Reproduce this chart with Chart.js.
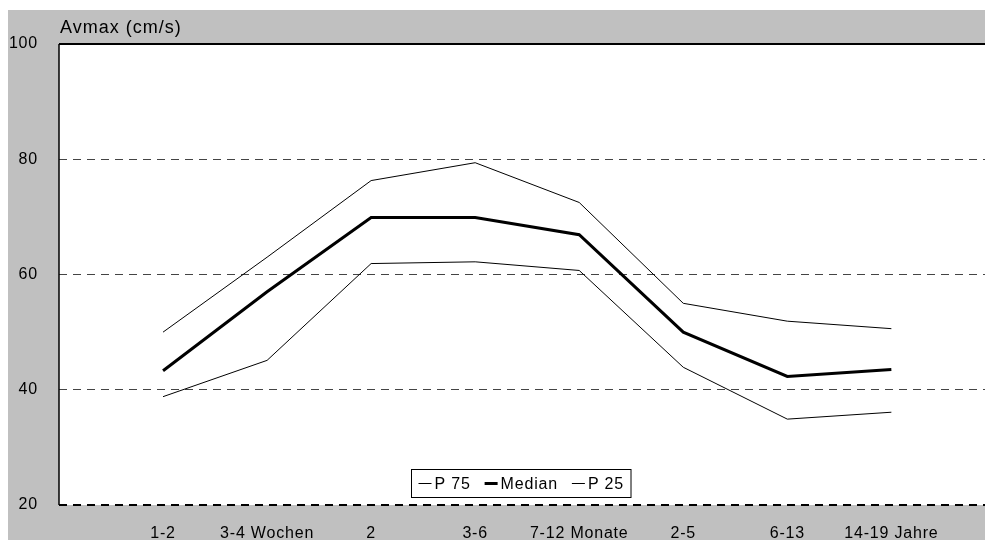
<!DOCTYPE html>
<html>
<head>
<meta charset="utf-8">
<script src="https://cdn.jsdelivr.net/npm/chart.js@4.4.1/dist/chart.umd.min.js"></script>
<style>
  html, body { margin: 0; padding: 0; background: #fff; }
  #c { display: block; }
</style>
</head>
<body>
<canvas id="c" width="985" height="540"></canvas>
<script>
// age groups along the x axis
const categories = ['1-2', '3-4 Wochen', '2', '3-6', '7-12 Monate', '2-5', '6-13', '14-19 Jahre'];
const yTicks = [20, 40, 60, 80, 100];

// Avmax in cm/s
const p75 = [50, 63, 76.3, 79.4, 72.5, 55.0, 51.9, 50.6];
const median = [43.3, 57.0, 69.9, 69.9, 66.9, 50.0, 42.3, 43.5];
const p25 = [38.8, 45.1, 61.9, 62.2, 60.7, 43.9, 34.9, 36.1];

const FONT = '"Liberation Sans", Arial, Helvetica, sans-serif';

function toPoints(arr) {
  return arr.map((v, i) => ({ x: i + 1, y: v }));
}

// gray frame, white plot area, borders, title and boxed legend
const frame = {
  id: 'frame',
  beforeLayout(chart) { chart.ctx.letterSpacing = '0.8px'; },
  beforeDraw(chart) {
    const { ctx, chartArea: a } = chart;
    ctx.letterSpacing = '0.8px';
    ctx.save();
    ctx.fillStyle = '#c0c0c0';
    ctx.fillRect(8, 10, chart.width - 8, chart.height - 10);
    ctx.fillStyle = '#fff';
    ctx.fillRect(a.left, a.top, a.right - a.left, a.bottom - a.top);
    ctx.restore();
  },
  afterDraw(chart) {
    const { ctx, chartArea: a } = chart;
    ctx.save();
    // top and left border
    ctx.strokeStyle = '#000';
    ctx.lineWidth = 2;
    ctx.beginPath();
    ctx.moveTo(a.left, a.top);
    ctx.lineTo(a.right, a.top);
    ctx.stroke();
    ctx.lineWidth = 1.5;
    ctx.beginPath();
    ctx.moveTo(a.left, a.top);
    ctx.lineTo(a.left, a.bottom);
    ctx.stroke();

    // title
    ctx.letterSpacing = '1px';
    ctx.fillStyle = '#000';
    ctx.font = '18px ' + FONT;
    ctx.textBaseline = 'alphabetic';
    ctx.fillText('Avmax (cm/s)', 60, 33);

    // legend
    ctx.letterSpacing = '0.8px';
    ctx.font = '16px ' + FONT;
    const ds = chart.data.datasets;
    const sample = 13, gapAfterLine = 3, gapItem = 14, padX = 7;
    let w = padX * 2;
    const widths = ds.map(d => ctx.measureText(d.label).width);
    widths.forEach((tw, i) => { w += sample + gapAfterLine + tw + (i < ds.length - 1 ? gapItem : 0); });
    const boxX = Math.round((a.left + a.right) / 2 - w / 2) - 0.5;
    const boxY = 469.5, boxH = 28;
    ctx.fillStyle = '#fff';
    ctx.fillRect(boxX, boxY, w, boxH);
    ctx.strokeStyle = '#000';
    ctx.lineWidth = 1;
    ctx.strokeRect(boxX, boxY, w, boxH);
    let x = boxX + padX;
    const cy = boxY + boxH / 2;
    ds.forEach((d, i) => {
      ctx.lineWidth = d.borderWidth;
      ctx.beginPath();
      ctx.moveTo(x, cy);
      ctx.lineTo(x + sample, cy);
      ctx.stroke();
      x += sample + gapAfterLine;
      ctx.fillStyle = '#000';
      ctx.textBaseline = 'middle';
      ctx.fillText(d.label, x, cy + 1);
      x += widths[i] + gapItem;
    });
    ctx.restore();
  }
};

new Chart(document.getElementById('c'), {
  type: 'line',
  data: {
    datasets: [
      { label: 'P 75', data: toPoints(p75), borderColor: '#000', borderWidth: 1 },
      { label: 'Median', data: toPoints(median), borderColor: '#000', borderWidth: 3 },
      { label: 'P 25', data: toPoints(p25), borderColor: '#000', borderWidth: 1 }
    ]
  },
  options: {
    responsive: false,
    animation: false,
    devicePixelRatio: 1,
    layout: { padding: { top: 44, left: 0, right: 0, bottom: 0 } },
    elements: { point: { radius: 0 }, line: { tension: 0 } },
    plugins: { legend: { display: false }, tooltip: { enabled: false } },
    scales: {
      x: {
        type: 'linear',
        min: 0,
        max: 8.9,
        afterBuildTicks(scale) { scale.ticks = categories.map((c, i) => ({ value: i + 1 })); },
        afterFit(scale) { scale.height = 35; },
        grid: { display: false, drawTicks: false },
        border: { display: false },
        ticks: {
          autoSkip: false,
          maxRotation: 0,
          padding: 19,
          color: '#000',
          font: { family: FONT, size: 16 },
          callback: v => categories[v - 1]
        }
      },
      y: {
        min: 20,
        max: 100,
        afterBuildTicks(scale) { scale.ticks = yTicks.map(v => ({ value: v })); },
        afterFit(scale) { scale.width = 59; },
        grid: {
          drawTicks: false,
          color: c => c.tick.value === 100 ? 'rgba(0,0,0,0)' : (c.tick.value === 20 ? '#000' : '#444'),
          lineWidth: c => c.tick.value === 20 ? 2 : 1
        },
        border: { display: false, dash: [8, 6] },
        ticks: {
          padding: 21,
          color: '#000',
          font: { family: FONT, size: 16 }
        }
      }
    }
  },
  plugins: [frame]
});
</script>
</body>
</html>
